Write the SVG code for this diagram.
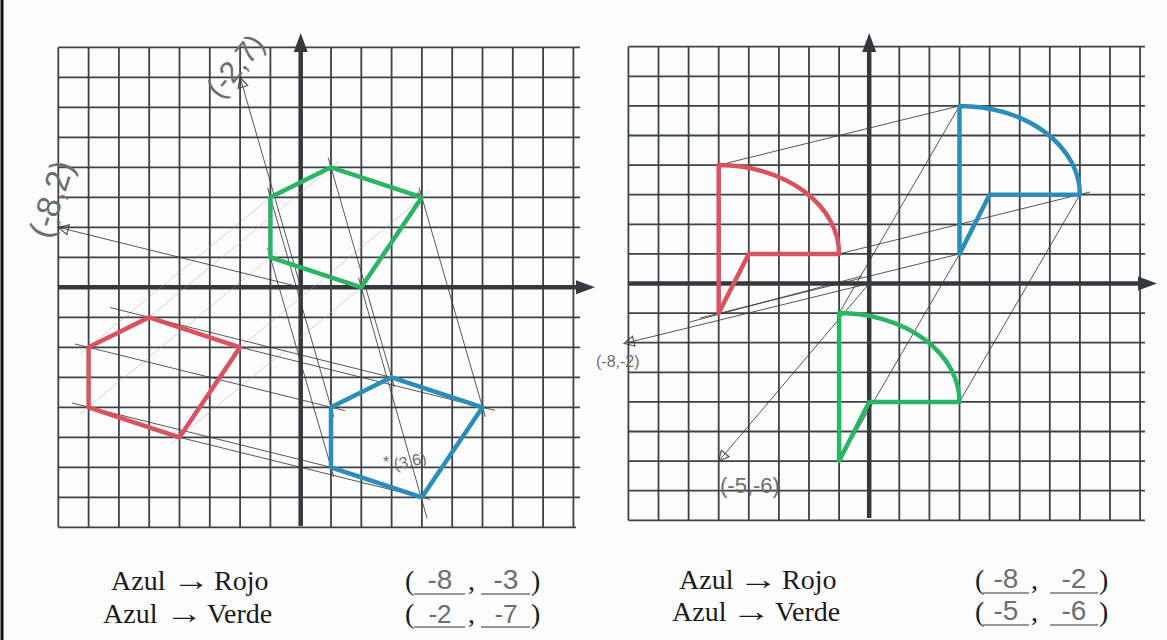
<svg xmlns="http://www.w3.org/2000/svg" width="1167" height="640" viewBox="0 0 1167 640">
<defs>
<style>
.grid{stroke:#3d4247;stroke-width:1.8;fill:none}
.axis{stroke:#35393d;stroke-width:4.5;fill:none}
.axh{fill:#35393d}
.pen{stroke:#3a3a3a;stroke-width:1;fill:none;opacity:.85}
.faint{stroke:#9a9a9a;stroke-width:.8;fill:none;opacity:.55}
.green{stroke:#2bb466;stroke-width:4.5;fill:none;stroke-linejoin:round}
.blue{stroke:#2b8db8;stroke-width:4.5;fill:none;stroke-linejoin:round}
.red{stroke:#d9525f;stroke-width:4.5;fill:none;stroke-linejoin:round}
.lbl{font-family:"Liberation Serif",serif;font-size:28px;fill:#1a1a1a}
.hand{font-family:"Liberation Sans",sans-serif;fill:#6e6e6e}
.ul{stroke:#333;stroke-width:1.2}
</style>
<marker id="arr" viewBox="0 0 12 12" refX="11" refY="6" markerWidth="12" markerHeight="12" markerUnits="userSpaceOnUse" orient="auto">
<path d="M1,1 L11,6 L1,11 Z" fill="none" stroke="#3a3a3a" stroke-width="1.2"/>
</marker>
</defs>
<rect x="0" y="0" width="1167" height="640" fill="#fdfdfd"/>
<line x1="2" y1="0" x2="2" y2="640" stroke="#111" stroke-width="3"/>

<g id="grid-left">
<path class="grid" d="M58.3,47.3V527.3M88.6,47.3V527.3M118.9,47.3V527.3M149.2,47.3V527.3M179.5,47.3V527.3M209.8,47.3V527.3M240.1,47.3V527.3M270.4,47.3V527.3M331,47.3V527.3M361.3,47.3V527.3M391.6,47.3V527.3M421.9,47.3V527.3M452.2,47.3V527.3M482.5,47.3V527.3M512.8,47.3V527.3M543.1,47.3V527.3M573.4,47.3V527.3
M58.3,47.3H580M58.3,77.3H580M58.3,107.3H580M58.3,137.3H580M58.3,167.3H580M58.3,197.3H580M58.3,227.3H580M58.3,257.3H580M58.3,317.3H580M58.3,347.3H580M58.3,377.3H580M58.3,407.3H580M58.3,437.3H580M58.3,467.3H580M58.3,497.3H580M58.3,527.3H576"/>
<path class="axis" d="M300.7,526V48M58.3,287.3H580"/>
<polygon class="axh" points="293.7,52 300.7,33 307.7,52"/>
<polygon class="axh" points="576,280.3 595,287.3 576,294.3"/>
</g>

<g id="grid-right">
<path class="grid" d="M628.4,46.7V520.3M658.5,46.7V520.3M688.6,46.7V520.3M718.7,46.7V520.3M748.8,46.7V520.3M778.9,46.7V520.3M809,46.7V520.3M839.1,46.7V520.3M899.3,46.7V520.3M929.4,46.7V520.3M959.5,46.7V520.3M989.6,46.7V520.3M1019.7,46.7V520.3M1049.8,46.7V520.3M1079.9,46.7V520.3M1110,46.7V520.3M1140.1,46.7V520.3
M628.4,46.7H1145M628.4,76.3H1145M628.4,105.9H1145M628.4,135.5H1145M628.4,165.1H1145M628.4,194.7H1145M628.4,224.3H1145M628.4,253.9H1145M628.4,313.1H1145M628.4,342.7H1145M628.4,372.3H1145M628.4,401.9H1145M628.4,431.5H1145M628.4,461.1H1145M628.4,490.7H1145M628.4,520.3H1145"/>
<path class="axis" d="M869.2,518V48M628.4,283.5H1140"/>
<polygon class="axh" points="862.2,52 869.2,33 876.2,52"/>
<polygon class="axh" points="1138,276.5 1157,283.5 1138,290.5"/>
</g>

<g id="connectors">
<path class="faint" d="M80,354 L278,191 M80,414 L278,251 M141,324 L339,161 M232,354 L430,191 M171,444 L369,281"/>
<path class="pen" d="M345,410.7 L75,344 M400,379.5 L110,307.5 M495,410.4 L230,344.8 M430,499.3 L170,435 M340,469.5 L72,403"/>
<path class="pen" d="M267.6,187.7 L333.8,416.9 M267.6,247.7 L333.8,476.9 M328.2,157.7 L394.4,386.9 M419.1,187.7 L485.3,416.9 M358.5,277.7 L427,518"/>
<line class="pen" x1="300.7" y1="287.3" x2="58.3" y2="227.3" marker-end="url(#arr)"/>
<line class="pen" x1="300.7" y1="287.3" x2="240.1" y2="77.3" marker-end="url(#arr)"/>
<path class="pen" d="M718.7,165.1 L959.5,105.9 M839.1,253.9 L1090,192 M700,318 L959.5,253.9 M690,322 L862,276"/>
<path class="pen" d="M959.5,105.9 L839.1,313.1 M1079.9,194.7 L959.5,401.9 M959.5,253.9 L839.1,461.1"/>
<line class="pen" x1="869.2" y1="283.5" x2="624" y2="343.5" marker-end="url(#arr)"/>
<line class="pen" x1="869.2" y1="283.5" x2="718.7" y2="461.1" marker-end="url(#arr)"/>
</g>

<g id="left-green"><polygon class="green" points="270.4,197.3 331,167.3 421.9,197.3 361.3,287.3 270.4,257.3"/></g>
<g id="left-blue"><polygon class="blue" points="331,407.3 391.6,377.3 482.5,407.3 421.9,497.3 331,467.3"/></g>
<g id="left-red"><polygon class="red" points="88.6,347.3 149.2,317.3 240.1,347.3 179.5,437.3 88.6,407.3"/></g>

<g id="right-red"><path class="red" d="M718.7,313.1 L718.7,165.1 A120.4,88.8 0 0 1 839.1,253.9 L748.8,253.9 Z"/></g>
<g id="right-blue"><path class="blue" d="M959.5,253.9 L959.5,105.9 A120.4,88.8 0 0 1 1079.9,194.7 L989.6,194.7 Z"/></g>
<g id="right-green"><path class="green" d="M839.1,461.1 L839.1,313.1 A120.4,88.8 0 0 1 959.5,401.9 L869.2,401.9 Z"/></g>

<g id="hand-labels">
<text class="hand" font-size="33" transform="translate(50,240) rotate(-72)">(-8,2)</text>
<text class="hand" font-size="30" transform="translate(220,100) rotate(-50)">(-2,7)</text>
<text class="hand" font-size="14" x="56" y="230">*</text>
<text class="hand" font-size="14" x="416" y="201">*</text>
<text class="hand" font-size="16" x="383" y="468">*</text>
<text class="hand" font-size="16" transform="translate(395,470) rotate(-12)">(3,6)</text>
<text class="hand" font-size="16" x="596" y="367">(-8,-2)</text>
<text class="hand" font-size="22" x="720" y="493">(-5,-6)</text>
</g>

<g id="answers-left">
<text class="lbl" x="111" y="590">Azul</text>
<text class="lbl" x="172" y="590" textLength="38" lengthAdjust="spacingAndGlyphs">→</text>
<text class="lbl" x="214" y="590">Rojo</text>
<text class="lbl" x="103" y="623">Azul</text>
<text class="lbl" x="165" y="623" textLength="38" lengthAdjust="spacingAndGlyphs">→</text>
<text class="lbl" x="207" y="623">Verde</text>
<text class="lbl" x="405" y="590">(</text>
<text class="lbl" x="468" y="590">,</text>
<text class="lbl" x="531" y="590">)</text>
<line class="ul" x1="414" y1="594" x2="465" y2="594"/>
<line class="ul" x1="481" y1="594" x2="530" y2="594"/>
<text class="hand" font-size="28" x="440" y="589" text-anchor="middle">-8</text>
<text class="hand" font-size="28" x="506" y="589" text-anchor="middle">-3</text>
<text class="lbl" x="405" y="623">(</text>
<text class="lbl" x="468" y="623">,</text>
<text class="lbl" x="531" y="623">)</text>
<line class="ul" x1="414" y1="627" x2="465" y2="627"/>
<line class="ul" x1="481" y1="627" x2="530" y2="627"/>
<text class="hand" font-size="26" x="440" y="623" text-anchor="middle">-2</text>
<text class="hand" font-size="26" x="506" y="623" text-anchor="middle">-7</text>
</g>

<g id="answers-right">
<text class="lbl" x="679" y="589">Azul</text>
<text class="lbl" x="738" y="589" textLength="40" lengthAdjust="spacingAndGlyphs">→</text>
<text class="lbl" x="782" y="589">Rojo</text>
<text class="lbl" x="672" y="621">Azul</text>
<text class="lbl" x="731" y="621" textLength="40" lengthAdjust="spacingAndGlyphs">→</text>
<text class="lbl" x="775" y="621">Verde</text>
<text class="lbl" x="975" y="589">(</text>
<text class="lbl" x="1031" y="589">,</text>
<text class="lbl" x="1099" y="589">)</text>
<line class="ul" x1="983" y1="593" x2="1029" y2="593"/>
<line class="ul" x1="1050" y1="593" x2="1098" y2="593"/>
<text class="hand" font-size="28" x="1006" y="588" text-anchor="middle">-8</text>
<text class="hand" font-size="28" x="1074" y="588" text-anchor="middle">-2</text>
<text class="lbl" x="975" y="621">(</text>
<text class="lbl" x="1031" y="621">,</text>
<text class="lbl" x="1099" y="621">)</text>
<line class="ul" x1="983" y1="625" x2="1029" y2="625"/>
<line class="ul" x1="1050" y1="625" x2="1098" y2="625"/>
<text class="hand" font-size="28" x="1006" y="620" text-anchor="middle">-5</text>
<text class="hand" font-size="28" x="1074" y="620" text-anchor="middle">-6</text>
</g>
</svg>
